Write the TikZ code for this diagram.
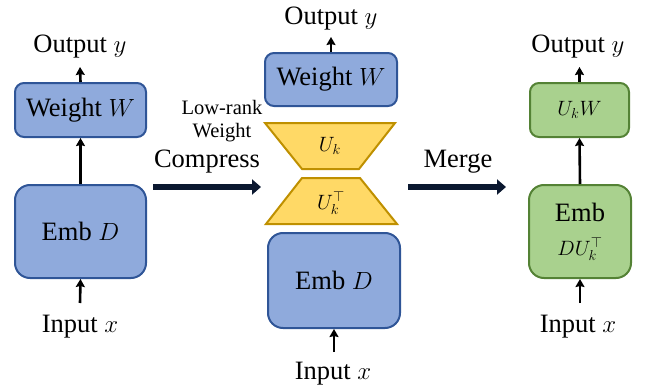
\documentclass[tikz,border=0pt]{standalone}
\usepackage{fontspec}
\setmainfont{Liberation Serif}
\usetikzlibrary{arrows.meta}
\definecolor{bfill}{HTML}{8FAADC}
\definecolor{bline}{HTML}{2F5597}
\definecolor{gfill}{HTML}{A9D18E}
\definecolor{gline}{HTML}{548235}
\definecolor{yfill}{HTML}{FFD966}
\definecolor{yline}{HTML}{BF9000}
\definecolor{navy}{HTML}{0B1830}
\begin{document}
\begin{tikzpicture}[x=1pt,y=-1pt,
  bluebox/.style={draw=bline,fill=bfill,line width=2pt,rounded corners=9pt,inner sep=0pt,
     font=\fontsize{26.5}{31}\selectfont},
  greenbox/.style={draw=gline,fill=gfill,line width=2pt,rounded corners=9pt,inner sep=0pt,
     font=\fontsize{26.5}{31}\selectfont},
  bigbox/.style={rounded corners=15pt},
  lbl/.style={inner sep=0pt,font=\fontsize{26.5}{31}\selectfont},
  mathlbl/.style={inner sep=0pt,font=\fontsize{22}{26}\selectfont},
  flow/.style={line width=2.6pt,-{Stealth[length=8pt,width=9pt,inset=1pt]}},
  bigarrow/.style={draw=navy,line width=5.5pt,-{Triangle[length=9pt,width=15pt]}},
  trap/.style={draw=yline,fill=yfill,line width=2pt,line join=miter},
]
\useasboundingbox (0,0) rectangle (649,391);

% ---------------- left column ----------------
\node[bluebox,minimum width=131pt,minimum height=54pt] (wl) at (80.5,110) {Weight $W$};
\node[bluebox,bigbox,minimum width=131pt,minimum height=93pt] (el) at (80.5,231.5) {Emb $D$};
\node[lbl] (ol) at (80,47) {Output $y$};
\node[lbl] (il) at (80,327) {Input $x$};
\coordinate (olt) at (80,67);
\coordinate (ilb) at (80,303);
\draw[flow] (wl.north) -- (olt);
\draw[flow] (el.north) -- (wl.south);
\draw[flow] (ilb) -- (el.south);

% ---------------- middle column ----------------
\node[bluebox,minimum width=132pt,minimum height=53pt] (wm) at (331,79.5) {Weight $W$};
\node[bluebox,bigbox,minimum width=132pt,minimum height=95pt] (em) at (334,280.5) {Emb $D$};
\node[lbl] (om) at (331,19) {Output $y$};
\node[lbl] (im) at (333,374) {Input $x$};
\coordinate (omt) at (331,37);
\coordinate (imb) at (334,352);
\draw[flow] (wm.north) -- (omt);
\draw[flow] (imb) -- (em.south);

% trapezoids
\draw[trap] (265,123) -- (395,123) -- (359,169) -- (302,169) -- cycle;
\draw[trap] (302,178) -- (360,178) -- (397,224) -- (266,224) -- cycle;
\node[mathlbl] (uk) at (330,146) {$U_k$};
\node[mathlbl] (ukt) at (331,203) {$U_k^\top$};

\node[inner sep=0pt,align=center,font=\fontsize{20.5}{23}\selectfont] (lr) at (222,121) {Low-rank\\Weight};

% big arrows
\coordinate (ca) at (153,187);
\coordinate (cb) at (261,187);
\draw[bigarrow] (ca) -- (cb);
\node[lbl] (cmp) at (207,162) {Compress};
\coordinate (ma) at (408,187);
\coordinate (mb) at (506,187);
\draw[bigarrow] (ma) -- (mb);
\node[lbl] (mrg) at (458,162) {Merge};

% ---------------- right column ----------------
\node[greenbox,minimum width=99pt,minimum height=54pt,font=\fontsize{22}{26}\selectfont] (wr) at (579.5,110) {$U_kW$};
\node[greenbox,bigbox,minimum width=102pt,minimum height=93pt,align=center] (er) at (580,231.5)
   {Emb\\[3pt]{\fontsize{22}{26}\selectfont$DU_k^\top$}};
\node[lbl] (or) at (578,47) {Output $y$};
\node[lbl] (ir) at (578,327) {Input $x$};
\coordinate (ort) at (579.5,67);
\coordinate (irb) at (580,303);
\draw[flow] (wr.north) -- (ort);
\draw[flow] (er.north) -- (wr.south);
\draw[flow] (irb) -- (er.south);
\end{tikzpicture}
\end{document}
